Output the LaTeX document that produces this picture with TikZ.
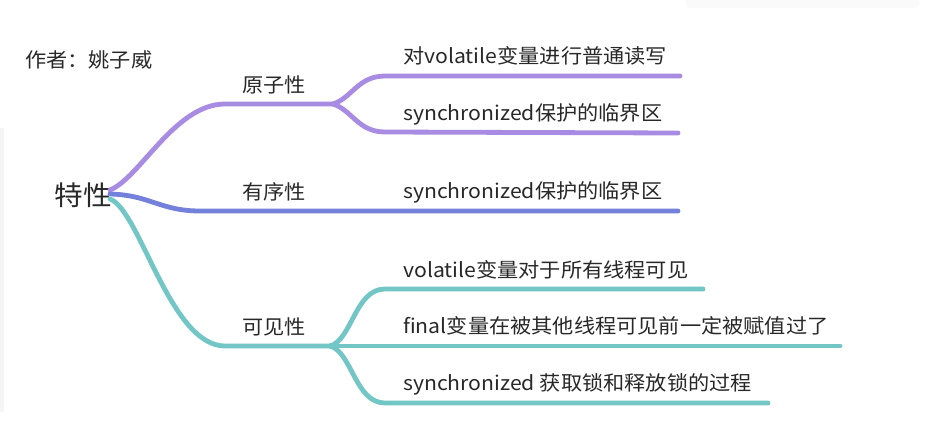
\documentclass[tikz,border=0pt]{standalone}
\usepackage{fontspec}
\setmainfont[FakeStretch=1.06]{Noto Sans CJK SC}
\definecolor{cpurple}{RGB}{168,139,226}
\definecolor{cblue}{RGB}{115,129,219}
\definecolor{cteal}{RGB}{114,198,198}
\definecolor{ctext}{RGB}{40,40,40}
\begin{document}
\begin{tikzpicture}[x=1pt,y=-1pt,
  branch/.style={line width=4.8pt,line cap=round},
  lbl/.style={inner sep=0pt,anchor=base west,text=ctext,font=\fontsize{20}{24}\selectfont},
  midlbl/.style={inner sep=0pt,anchor=base,text=ctext,font=\fontsize{20}{24}\selectfont}]
\useasboundingbox (0,0) rectangle (927,442);
\fill[white] (0,0) rectangle (927,442);
% faint UI artefacts
\fill[black!4] (0,128) rectangle (4,412);
\fill[black!3,rounded corners=3pt] (690,-6) rectangle (915,5);
\fill[black!2,rounded corners=4pt] (686,-6) rectangle (919,8);

% nodes
\node[lbl,font=\fontsize{20}{24}\selectfont] (author) at (25,67) {作者：姚子威};
\node[inner sep=0pt,anchor=base,text=ctext,font=\fontsize{27}{32}\selectfont] (root) at (83,205) {特性};
\coordinate (rootE) at (110,190);
\coordinate (rootEb) at (110,194);
\coordinate (rootEt) at (110,199);

\node[midlbl] (atom) at (274,92) {原子性};
\node[midlbl] (order) at (274,199) {有序性};
\node[midlbl] (vis) at (274,334) {可见性};

\node[lbl] (a1) at (403,63) {对volatile变量进行普通读写};
\node[lbl] (a2) at (403,120) {synchronized保护的临界区};
\node[lbl] (o1) at (403,198) {synchronized保护的临界区};
\node[lbl] (v1) at (403,277) {volatile变量对于所有线程可见};
\node[lbl] (v2) at (403,333) {final变量在被其他线程可见前一定被赋值过了};
\node[lbl] (v3) at (403,390) {synchronized 获取锁和释放锁的过程};

% fork points and ends
\coordinate (fa) at (333,104);
\coordinate (fv) at (330,346);
\coordinate (a1e) at (680,76);
\coordinate (a2e) at (678,133);
\coordinate (o1e) at (678,211);
\coordinate (v1e) at (703,289);
\coordinate (v2e) at (840,346);
\coordinate (v3e) at (768,403);

% purple
\draw[branch,cpurple] (rootE) .. controls (140,178) and (175,104) .. (225,104) -- (fa);
\draw[branch,cpurple] (fa) .. controls (352,98) and (358,76) .. (385,76) -- (a1e);
\draw[branch,cpurple] (fa) .. controls (352,110) and (358,132) .. (385,132) -- (a2e);
% blue
\draw[branch,cblue] (rootEb) .. controls (150,195) and (160,211) .. (200,211) -- (o1e);
% teal
\draw[branch,cteal] (rootEt) .. controls (140,210) and (170,346) .. (225,346) -- (fv);
\draw[branch,cteal] (fv) .. controls (352,340) and (355,289) .. (385,289) -- (v1e);
\draw[branch,cteal] (fv) -- (v2e);
\draw[branch,cteal] (fv) .. controls (352,352) and (355,403) .. (385,403) -- (v3e);
\end{tikzpicture}
\end{document}
